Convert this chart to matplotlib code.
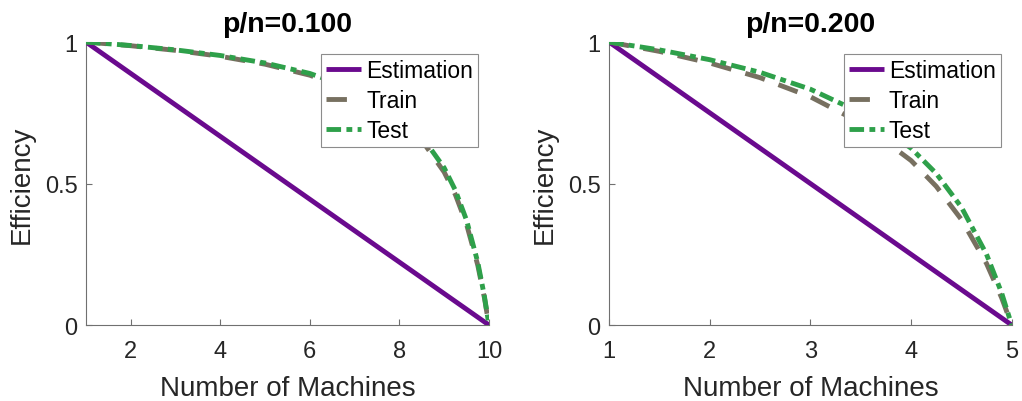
import matplotlib
matplotlib.use("Agg")
import matplotlib.pyplot as plt

plt.rcParams['font.family'] = ['Liberation Sans', 'DejaVu Sans']

# ---------------- data ----------------
titles = ["p/n=0.100", "p/n=0.200"]

machines_left = [1, 2, 3, 4, 5, 6, 7, 8, 8.5, 9, 9.25, 9.5, 9.75, 9.9, 10]
estimation_left = [1.0, 0.8889, 0.7778, 0.6667, 0.5556, 0.4444, 0.3333, 0.2222,
                   0.1667, 0.1111, 0.0833, 0.0556, 0.0278, 0.0111, 0.0]
train_left = [1.0, 0.9869, 0.9705, 0.9495, 0.9216, 0.8827, 0.8247, 0.7288,
              0.6530, 0.5404, 0.4610, 0.3562, 0.2118, 0.0956, 0.0]
test_left = [1.0, 0.9877, 0.9722, 0.9524, 0.9259, 0.8889, 0.8333, 0.7407,
             0.6667, 0.5556, 0.4762, 0.3704, 0.2222, 0.1010, 0.0]

machines_right = [1, 1.5, 2, 2.5, 3, 3.5, 4, 4.25, 4.5, 4.75, 4.9, 5]
estimation_right = [1.0, 0.875, 0.75, 0.625, 0.5, 0.375, 0.25, 0.1875,
                    0.125, 0.0625, 0.025, 0.0]
train_right = [1.0, 0.9669, 0.9259, 0.8741, 0.8065, 0.7143, 0.5814, 0.4902,
               0.3731, 0.2174, 0.0965, 0.0]
test_right = [1.0, 0.9722, 0.9375, 0.8929, 0.8333, 0.75, 0.625, 0.5357,
              0.4167, 0.25, 0.1136, 0.0]

xticks_left = [2, 4, 6, 8, 10]
xticks_right = [1, 2, 3, 4, 5]
yticks = [0, 0.5, 1]
ytick_labels = ["0", "0.5", "1"]
series_names = ["Estimation", "Train", "Test"]

# ---------------- style ----------------
c_est = "#6a0a8e"
c_train = "#777060"
c_test = "#2ea04a"
axis_col = "#707070"
text_col = "#262626"

fig = plt.figure(figsize=(10.22, 4.02), dpi=100)
ax_l = fig.add_axes([0.0841, 0.189, 0.3943, 0.704])
ax_r = fig.add_axes([0.5959, 0.189, 0.394, 0.704])

panels = [
    (ax_l, machines_left, estimation_left, train_left, test_left, xticks_left, titles[0]),
    (ax_r, machines_right, estimation_right, train_right, test_right, xticks_right, titles[1]),
]

LW = 3.5
for ax, xs, est, tr, te, xt, ttl in panels:
    ax.plot(xs, est, color=c_est, lw=LW, solid_capstyle='butt', label=series_names[0], zorder=3)
    ax.plot(xs, tr, color=c_train, lw=LW, dashes=(4.2, 3.0), label=series_names[1], zorder=4)
    ax.plot(xs, te, color=c_test, lw=LW, dashes=(3.0, 1.1, 1.2, 1.1), label=series_names[2], zorder=5)
    ax.set_xlim(xs[0], xs[-1])
    ax.set_ylim(0, 1)
    ax.set_xticks(xt)
    ax.set_xticklabels([str(v) for v in xt])
    ax.set_yticks(yticks)
    ax.set_yticklabels(ytick_labels)
    for s in ['top', 'right']:
        ax.spines[s].set_visible(False)
    for s in ['left', 'bottom']:
        ax.spines[s].set_color(axis_col)
        ax.spines[s].set_linewidth(0.8)
    ax.tick_params(direction='in', length=4, width=0.8, color=axis_col,
                   labelsize=17, labelcolor=text_col)
    ax.tick_params(axis='x', pad=11)
    ax.tick_params(axis='y', pad=6)
    ax.set_xlabel("Number of Machines", fontsize=20, color=text_col, labelpad=9)
    ax.set_ylabel("Efficiency", fontsize=20, color=text_col, labelpad=7)
    ax.set_title(ttl, fontsize=20.5, fontweight='bold', color='black', pad=8)
    leg = ax.legend(loc='upper left', bbox_to_anchor=(0.583, 0.958), fontsize=16.5,
                    handlelength=1.55, handletextpad=0.2, labelspacing=0.3,
                    borderpad=0.22, borderaxespad=0, fancybox=False, framealpha=1)
    leg.get_frame().set_edgecolor('#8c8c8c')
    leg.get_frame().set_linewidth(0.8)

fig.savefig("out.png", dpi=100)
